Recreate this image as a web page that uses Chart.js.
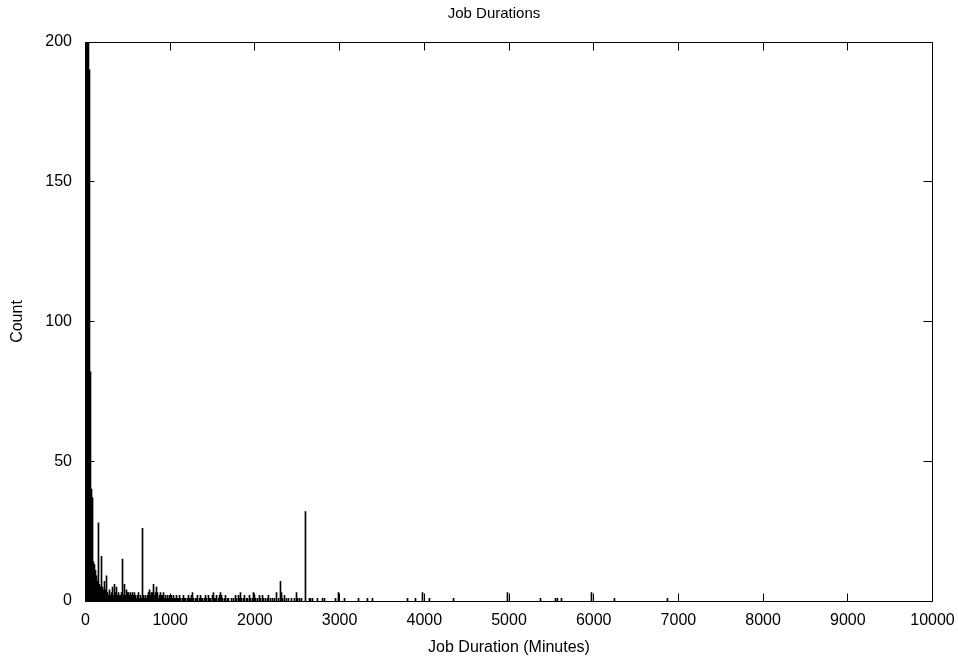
<!DOCTYPE html>
<html><head><meta charset="utf-8">
<script src="https://cdn.jsdelivr.net/npm/chart.js@4.4.0/dist/chart.umd.min.js"></script>
<style>html,body{margin:0;padding:0;background:#fff;}canvas{display:block;}</style>
</head><body>
<canvas id="c" width="958" height="662"></canvas>
<script>
// Job duration in minutes (histogram bins)
const durations = [
  0,12,24,35,47,59,71,83,94,106,118,130,142,153,165,177,189,201,213,224,
  236,248,260,272,283,295,307,319,331,342,354,366,378,390,401,413,425,437,449,460,
  472,484,496,508,519,531,543,555,567,578,590,602,614,626,638,649,661,673,685,697,
  708,720,732,744,756,767,779,791,803,815,826,838,850,862,874,885,897,909,921,933,
  944,956,968,980,992,1003,
  1015,1027,1039,1051,1063,1074,1086,1098,1110,1122,1145,1157,1169,1181,1204,1216,1228,1240,1251,1263,
  1275,1299,1310,1322,1346,1358,1369,1381,1405,1417,1429,1452,1464,1476,1499,1511,1523,1535,1547,1570,
  1582,1594,1606,1617,1641,1653,1676,1688,1724,1747,1771,1783,1806,1818,1830,1842,1865,1877,1901,1913,
  1936,1948,1972,1983,1995,2007,2031,2054,2066,2090,2101,2125,2149,2160,2184,2208,2231,2255,2279,2302,
  2314,2326,2349,2373,2397,2432,2467,2491,2503,2526,2550,2597,2645,2656,2680,2739,2798,2822,2952,2987,
  3058,3223,3329,3388,3802,3896,3979,4061,4345,4982,5372,5549,5572,5620,5974,6245,6871
];
// Number of jobs in each bin
const counts = [
  950,620,420,280,190,82,40,37,14,13,11,9,7,28,6,5,16,5,4,7,
  4,9,3,2,4,2,3,5,2,6,3,5,2,3,2,2,3,15,2,6,
  2,4,3,3,2,3,2,3,2,3,2,1,2,3,1,2,1,26,2,1,
  2,1,2,3,4,2,3,3,6,2,3,5,3,1,2,3,2,2,3,1,
  2,1,2,1,2,1,
  2,1,2,1,1,2,1,1,2,1,1,2,1,1,1,2,1,1,2,3,
  1,1,1,2,1,2,1,1,1,2,1,2,1,1,2,3,1,1,2,1,
  2,3,2,1,1,2,1,1,1,1,2,1,2,1,3,1,1,2,1,1,
  2,1,1,3,2,1,1,2,1,2,1,1,1,2,1,1,1,3,1,7,
  3,1,2,1,1,1,1,3,1,1,1,32,1,1,1,1,1,1,1,3,
  1,1,1,1,1,1,3,1,1,3,1,1,1,1,3,1,1
];
const xTickValues = [0,1000,2000,3000,4000,5000,6000,7000,8000,9000,10000];
const yTickValues = [0,50,100,150,200];
const chartTitle = 'Job Durations';
const xTitle = 'Job Duration (Minutes)';
const yTitle = 'Count';

const points = durations.map((d, i) => ({x: d, y: counts[i]}));

Chart.defaults.font.family = '"Liberation Sans", Arial, Helvetica, sans-serif';
Chart.defaults.font.size = 16;
Chart.defaults.color = '#000';

const framePlugin = {
  id: 'frame',
  afterDatasetsDraw(chart) {
    const {ctx, chartArea: a, scales: {x, y}} = chart;
    ctx.save();
    ctx.strokeStyle = '#000';
    ctx.lineWidth = 1;
    const L = Math.floor(a.left) + 0.5, R = Math.floor(a.right) + 0.5;
    const T = Math.floor(a.top) + 0.5, B = Math.floor(a.bottom) + 0.5;
    ctx.beginPath();
    ctx.rect(L, T, R - L, B - T);
    x.ticks.forEach(t => {
      const px = Math.floor(x.getPixelForValue(t.value)) + 0.5;
      ctx.moveTo(px, B); ctx.lineTo(px, B - 8);
      ctx.moveTo(px, T); ctx.lineTo(px, T + 8);
    });
    y.ticks.forEach(t => {
      const py = Math.floor(y.getPixelForValue(t.value)) + 0.5;
      ctx.moveTo(L, py); ctx.lineTo(L + 9, py);
      ctx.moveTo(R, py); ctx.lineTo(R - 9, py);
    });
    ctx.stroke();
    // chart title
    ctx.fillStyle = '#000';
    ctx.font = '15px "Liberation Sans", Arial, sans-serif';
    ctx.textAlign = 'center';
    ctx.textBaseline = 'middle';
    ctx.fillText(chartTitle, 494, 14);
    ctx.restore();
  }
};

new Chart(document.getElementById('c'), {
  type: 'bar',
  data: {
    datasets: [{
      data: points,
      backgroundColor: '#000',
      borderWidth: 0,
      barThickness: 1,
      clip: 0
    }]
  },
  options: {
    responsive: false,
    animation: false,
    devicePixelRatio: 1,
    layout: {padding: {left: 0, right: 25.5, top: 42, bottom: 0}},
    plugins: {
      legend: {display: false},
      tooltip: {enabled: false},
      title: {display: false}
    },
    scales: {
      x: {
        type: 'linear',
        min: 0, max: 10000,
        offset: false,
        grid: {display: false, drawTicks: false},
        border: {display: false},
        afterBuildTicks: s => { s.ticks = xTickValues.map(v => ({value: v})); },
        afterFit: s => { s.height = 61; s.paddingLeft = 0; s.paddingRight = 0; },
        ticks: {maxRotation: 0, autoSkip: false, padding: 10, color: '#000', callback: v => String(v)},
        title: {display: true, text: xTitle, color: '#000', padding: {top: 0, bottom: 4.4}}
      },
      y: {
        type: 'linear',
        min: 0, max: 200,
        grid: {display: false, drawTicks: false},
        border: {display: false},
        afterBuildTicks: s => { s.ticks = yTickValues.map(v => ({value: v})); },
        afterFit: s => { s.width = 85.5; s.paddingTop = 0; s.paddingBottom = 0; },
        ticks: {padding: 13.5, color: '#000', callback: v => String(v)},
        title: {display: true, text: yTitle, color: '#000', padding: {top: 8.4, bottom: 0}}
      }
    }
  },
  plugins: [framePlugin]
});
</script>
</body></html>
